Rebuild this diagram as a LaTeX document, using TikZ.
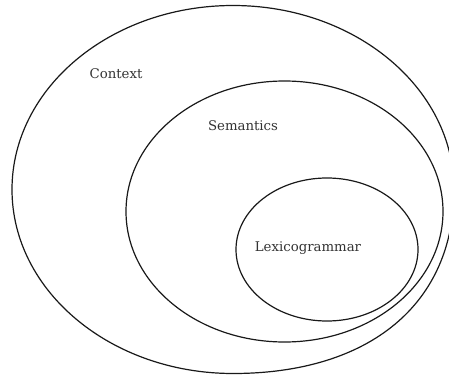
\documentclass[tikz,border=0pt]{standalone}
\usepackage{fontspec}
\setmainfont{DejaVu Serif}
\begin{document}
\begin{tikzpicture}[x=1pt,y=-1pt,
  ring/.style={draw=black!90,line width=1.2pt},
  lbl/.style={font=\fontsize{13.3}{16}\selectfont,text=black!80,inner sep=0pt}]
\useasboundingbox (0,0) rectangle (449,377);
\begin{scope}
\clip (0,0) rectangle (449,377);
\coordinate (oc) at (233,189.5);
\coordinate (or) at (454,189.5);
\coordinate (ob) at (233,373.5);
\draw[ring] (or) .. controls (454,303.6) and (370,373.5) .. (ob)
  arc[start angle=90, end angle=360, x radius=221, y radius=184] -- cycle;
\end{scope}
\draw[ring] (284.5,211.5) ellipse [x radius=158.5, y radius=130.5];
\draw[ring] (327,249.5) ellipse [x radius=91, y radius=71.5];
\node[lbl] (ctx) at (116,74) {Context};
\node[lbl] (sem) at (243,126) {Semantics};
\node[lbl] (lex) at (308,248) {Lexicogrammar};
\end{tikzpicture}
\end{document}
